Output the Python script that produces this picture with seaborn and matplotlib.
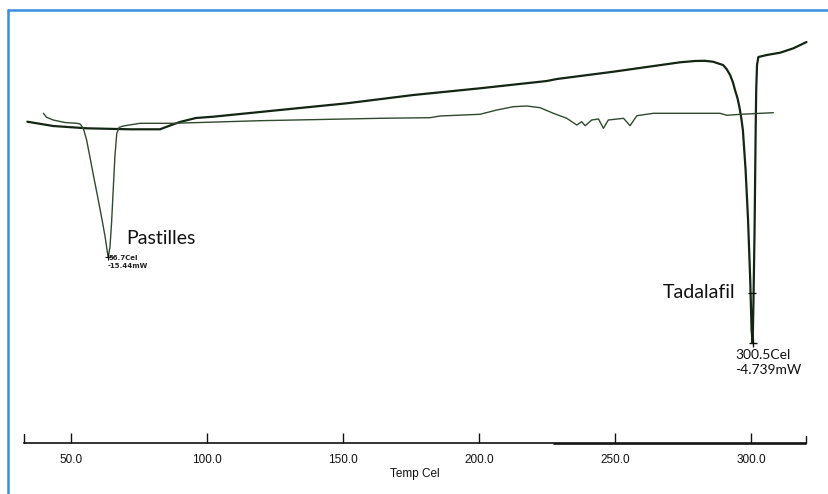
import matplotlib
matplotlib.use("Agg")
import matplotlib.pyplot as plt
from matplotlib.lines import Line2D
import seaborn as sns
import pandas as pd

# ---- data (temperature in Cel, heat flow in arbitrary offset units) ----
tad_temp = [33.8, 43.3, 55.6, 71.6, 82.6, 86.3, 89.9, 95.8, 102.2, 126.7, 151.3, 175.8,
            200.3, 224.9, 228.6, 249.4, 273.9, 279.4, 283.0, 286.0, 288.0, 289.7, 291.0,
            292.3, 293.3, 294.1, 295.0, 295.7, 296.4, 297.0, 298.0, 298.9, 299.7, 300.2,
            300.6, 300.9, 301.3, 301.7, 301.9, 302.2, 302.7, 305.8, 310.7, 315.6, 320.4]
tad_flow = [32.13, 31.70, 31.47, 31.37, 31.37, 31.75, 32.10, 32.50, 32.63, 33.30, 33.97, 34.80,
            35.47, 36.20, 36.40, 37.13, 38.07, 38.20, 38.22, 38.13, 37.95, 37.80, 37.40,
            36.80, 36.10, 35.30, 34.50, 33.63, 32.50, 31.30, 27.30, 22.30, 16.30, 11.30,
            10.00, 14.30, 21.30, 31.30, 35.30, 37.80, 38.60, 38.80, 39.03, 39.47, 40.10]

pas_temp = [39.7, 40.9, 43.3, 47.6, 52.0, 53.2, 54.4, 55.6, 56.8, 58.3, 59.9, 61.3, 62.4,
            63.4, 63.6, 64.2, 64.8, 65.2, 66.0, 66.7, 67.6, 69.1, 75.2, 87.4, 119.4, 163.6,
            181.9, 185.6, 200.3, 206.5, 212.6, 217.5, 222.4, 227.3, 232.2, 235.9, 237.7,
            239.0, 241.4, 243.9, 245.7, 247.5, 253.1, 255.5, 258.0, 264.1, 281.3, 288.6,
            291.1, 296.0, 308.2]
pas_flow = [32.97, 32.57, 32.30, 32.05, 31.97, 31.90, 31.47, 30.30, 28.63, 26.50, 24.30, 22.30, 20.63,
            18.80, 18.60, 19.63, 22.10, 24.30, 28.63, 30.97, 31.57, 31.70, 31.97, 31.97, 32.23, 32.47,
            32.53, 32.70, 32.87, 33.30, 33.63, 33.70, 33.53, 32.97, 32.47, 31.80, 32.13,
            31.73, 32.30, 32.40, 31.47, 32.30, 32.47, 31.73, 32.73, 32.97, 32.97, 32.97,
            32.77, 32.87, 33.03]

x_ticks = [50, 100, 150, 200, 250, 300]
x_tick_labels = ["50.0", "100.0", "150.0", "200.0", "250.0", "300.0"]

tad_peak = (300.6, 10.0)
pas_peak = (63.6, 18.6)

df = pd.concat([
    pd.DataFrame({"temp": tad_temp, "flow": tad_flow, "sample": "Tadalafil"}),
    pd.DataFrame({"temp": pas_temp, "flow": pas_flow, "sample": "Pastilles"}),
], ignore_index=True)

sns.set_style("white")
plt.rcParams["font.family"] = ["Liberation Sans", "DejaVu Sans"]

W, H = 829, 494
fig = plt.figure(figsize=(W / 100, H / 100), dpi=100)
ax = fig.add_axes([23.8 / W, 1 - 443 / H, (806.5 - 23.8) / W, (443 - 30) / H])

sns.lineplot(data=df[df["sample"] == "Tadalafil"], x="temp", y="flow", sort=False,
             estimator=None, color="#132613", linewidth=1.6, ax=ax, clip_on=False)
sns.lineplot(data=df[df["sample"] == "Pastilles"], x="temp", y="flow", sort=False,
             estimator=None, color="#2f4a2f", linewidth=1.0, ax=ax, clip_on=False)

xmin, xmax = 32.5, 320.4
ax.set_xlim(xmin, xmax)
ax.set_ylim(0, 41.3)

for s in ["top", "left", "right"]:
    ax.spines[s].set_visible(False)
ax.spines["bottom"].set_color("#111111")
ax.spines["bottom"].set_linewidth(1.2)
ax.set_yticks([])
ax.set_ylabel("")
ax.set_xticks(x_ticks)
ax.set_xticklabels(x_tick_labels)
ax.tick_params(axis="x", direction="in", length=7.5, width=1.0, color="#111111",
               pad=8, labelsize=8.5, labelcolor="#111111", bottom=True)
ax.set_xlabel("Temp Cel", fontsize=8.5, color="#111111", labelpad=1)

# end ticks of the axis and the doubled segment on the right part
trans = ax.get_xaxis_transform()
for xe, ln in ((xmin, 0.022), (xmax, 0.018)):
    ax.plot([xe, xe], [0, ln], color="#111111", lw=1.0, transform=trans, clip_on=False)
ax.plot([227.5, xmax], [-0.003, -0.003], color="#111111", lw=1.2, transform=trans,
        clip_on=False)

# peak markers
ax.plot([tad_peak[0]], [tad_peak[1]], marker="+", markersize=6, color="#111111", mew=1.0)
ax.plot([300.2], [15.0], marker="_", markersize=6, color="#111111", mew=1.0)
ax.plot([pas_peak[0]], [pas_peak[1]], marker="+", markersize=4, color="#111111", mew=0.8)

# annotations
ax.text(70.1, 20.5, "Pastilles", fontsize=14, family=["Lato", "DejaVu Sans"],
        ha="left", va="center", color="#111111")
ax.text(267.7, 15.0, "Tadalafil", fontsize=14, family=["Lato", "DejaVu Sans"],
        ha="left", va="center", color="#111111")
ax.text(294.1, 8.8, "300.5Cel", fontsize=10, family=["Lato", "DejaVu Sans"],
        ha="left", va="center", color="#111111")
ax.text(294.1, 7.25, "-4.739mW", fontsize=10, family=["Lato", "DejaVu Sans"],
        ha="left", va="center", color="#111111")
ax.text(63.5, 18.45, "56.7Cel", fontsize=5, family=["DejaVu Sans"], weight="bold",
        ha="left", va="center", color="#222222")
ax.text(63.5, 17.7, "-15.44mW", fontsize=5, family=["DejaVu Sans"], weight="bold",
        ha="left", va="center", color="#222222")

# blue frame
blue = "#3a8ee0"
fig.add_artist(Line2D([8 / W, 8 / W], [0, 1 - 10.5 / H], color=blue, linewidth=1.8,
                      transform=fig.transFigure))
fig.add_artist(Line2D([8 / W, 1], [1 - 10.5 / H, 1 - 10.5 / H], color=blue, linewidth=1.8,
                      transform=fig.transFigure))

fig.savefig("out.png", dpi=100)
